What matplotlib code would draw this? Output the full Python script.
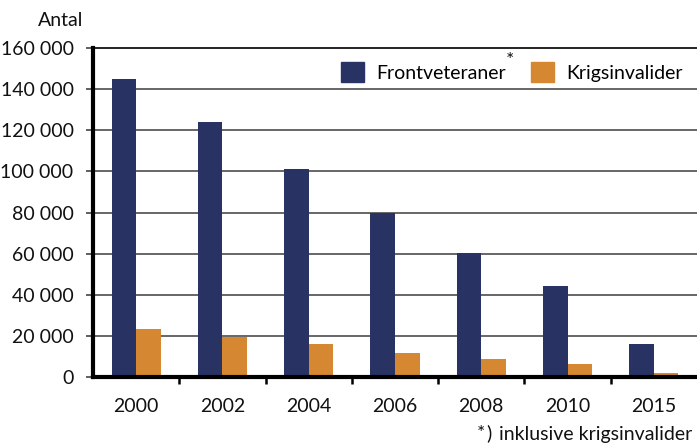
import matplotlib
matplotlib.use("Agg")
import matplotlib.pyplot as plt
import numpy as np
from matplotlib.patches import Patch

years = ["2000", "2002", "2004", "2006", "2008", "2010", "2015"]
frontveteraner = [145000, 124000, 101000, 79700, 60300, 44500, 16300]
krigsinvalider = [23600, 19800, 16000, 12000, 9000, 6500, 2100]
yticks = [0, 20000, 40000, 60000, 80000, 100000, 120000, 140000, 160000]
ytick_labels = ["0", "20 000", "40 000", "60 000", "80 000", "100 000", "120 000", "140 000", "160 000"]

NAVY = "#283363"
ORANGE = "#D58731"
FONT = "Lato"
FS = 14

plt.rcParams["font.family"] = [FONT, "DejaVu Sans"]

fig = plt.figure(figsize=(6.97, 4.48), dpi=100)
ax = fig.add_axes([93 / 697, 1 - 377.4 / 448, 1 - 93 / 697, (377.4 - 47.8) / 448])

x = np.arange(len(years))
w = 0.285
ax.bar(x - w / 2, frontveteraner, width=w, color=NAVY, zorder=3)
ax.bar(x + w / 2, krigsinvalider, width=w, color=ORANGE, zorder=3)

ax.set_xlim(-0.5, 6.5)
ax.set_ylim(0, 160000)

ax.set_yticks(yticks)
ax.set_yticklabels(ytick_labels, fontsize=FS, color="#111111")
ax.tick_params(axis="y", direction="out", length=5, width=1.2, color="#444444", pad=9)

ax.set_xticks(x)
ax.set_xticklabels(years, fontsize=FS, color="#111111")
ax.tick_params(axis="x", which="major", length=0, pad=15)
ax.set_xticks(np.arange(0.5, 6.0, 1.0), minor=True)
ax.tick_params(axis="x", which="minor", direction="out", length=5, width=1.8, color="black")

for v in yticks[1:-1]:
    ax.axhline(v, color="#666666", lw=1.4, zorder=1)
ax.axhline(160000, color="black", lw=1.2, zorder=1, clip_on=False)

for s in ["top", "right"]:
    ax.spines[s].set_visible(False)
ax.spines["left"].set_linewidth(3.0)
ax.spines["bottom"].set_linewidth(3.0)
ax.spines["left"].set_zorder(4)
ax.spines["bottom"].set_zorder(4)

handles = [Patch(color=NAVY, label="Frontveteraner"),
           Patch(color=ORANGE, label="Krigsinvalider")]
ax.legend(handles=handles, loc="upper right", bbox_to_anchor=(1.0, 1.0),
          frameon=False, ncol=2, fontsize=FS, handlelength=1.2,
          handleheight=1.2, handletextpad=0.6, columnspacing=1.3,
          borderaxespad=0.35)
fig.text(510 / 697, 1 - 61 / 448, "*", fontsize=14, ha="center", va="center", color="#111111")

fig.text(38 / 697, 1 - 20 / 448, "Antal", fontsize=FS, ha="left", va="center", color="#111111")
fig.text(692 / 697, 1 - 434 / 448, "inklusive krigsinvalider", fontsize=FS,
         ha="right", va="center", color="#111111")
fig.text(489 / 697, 1 - 433 / 448, ")", fontsize=FS, ha="center", va="center", color="#111111")
fig.text(481 / 697, 1 - 433 / 448, "*", fontsize=14, ha="center", va="center", color="#111111")

fig.savefig("out.png", dpi=100)
